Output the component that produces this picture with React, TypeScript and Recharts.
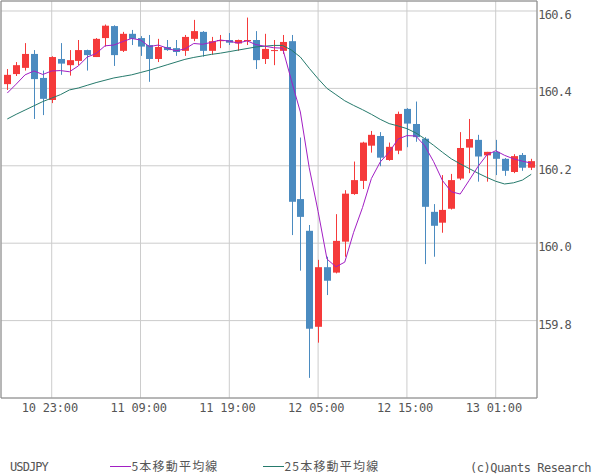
import React from "react";
import {
  ComposedChart,
  Bar,
  Line,
  XAxis,
  YAxis,
  CartesianGrid,
  ReferenceArea,
} from "recharts";

// ---- data (USDJPY hourly candles, 10 18:00 -> 13 05:00) ----
const opens = [160.411,160.437,160.453,160.489,160.427,160.370,160.476,160.460,160.471,160.499,160.481,160.530,160.561,160.497,160.541,160.530,160.512,160.476,160.507,160.504,160.497,160.528,160.546,160.497,160.522,160.525,160.516,160.522,160.525,160.476,160.497,160.497,160.522,160.114,160.032,159.784,159.938,159.924,160.004,160.127,160.161,160.252,160.277,160.215,160.239,160.347,160.308,160.270,160.081,160.053,160.089,160.167,160.247,160.267,160.227,160.236,160.218,160.184,160.228,160.195];
const highs = [160.450,160.468,160.517,160.499,160.446,160.483,160.517,160.499,160.525,160.500,160.530,160.565,160.563,160.546,160.551,160.535,160.538,160.528,160.525,160.525,160.538,160.577,160.548,160.533,160.538,160.543,160.526,160.583,160.548,160.541,160.525,160.538,160.538,160.273,160.047,159.957,159.965,160.075,160.137,160.211,160.262,160.290,160.287,160.260,160.340,160.349,160.366,160.274,160.101,160.176,160.179,160.287,160.321,160.280,160.236,160.267,160.220,160.230,160.233,160.218];
const lows = [160.396,160.432,160.446,160.321,160.331,160.362,160.435,160.433,160.460,160.446,160.481,160.508,160.458,160.494,160.512,160.484,160.417,160.468,160.497,160.484,160.484,160.522,160.482,160.487,160.504,160.512,160.497,160.512,160.450,160.463,160.460,160.489,160.021,159.929,159.652,159.743,159.866,159.922,159.965,160.125,160.140,160.234,160.199,160.213,160.230,160.248,160.262,159.946,159.965,160.027,160.087,160.163,160.181,160.159,160.159,160.176,160.174,160.181,160.187,160.189];
const closes = [160.435,160.460,160.489,160.424,160.373,160.481,160.464,160.473,160.499,160.486,160.528,160.562,160.486,160.541,160.528,160.508,160.476,160.507,160.499,160.494,160.533,160.548,160.497,160.522,160.525,160.518,160.525,160.525,160.473,160.502,160.499,160.520,160.107,160.068,159.779,159.938,159.903,160.006,160.128,160.163,160.260,160.280,160.221,160.249,160.334,160.309,160.274,160.094,160.045,160.086,160.163,160.246,160.269,160.224,160.236,160.218,160.187,160.225,160.195,160.212];
const ma5 = [160.388,160.411,160.435,160.445,160.436,160.445,160.446,160.443,160.458,160.481,160.490,160.510,160.512,160.521,160.529,160.525,160.508,160.512,160.504,160.497,160.502,160.516,160.514,160.519,160.525,160.522,160.517,160.523,160.513,160.509,160.505,160.504,160.420,160.339,160.195,160.082,159.959,159.939,159.951,160.028,160.092,160.167,160.210,160.235,160.269,160.278,160.277,160.252,160.211,160.162,160.133,160.127,160.162,160.198,160.228,160.239,160.227,160.218,160.212,160.207];
const ma25 = [160.321,160.333,160.344,160.355,160.366,160.375,160.384,160.396,160.401,160.408,160.415,160.421,160.427,160.431,160.435,160.441,160.447,160.454,160.461,160.468,160.475,160.480,160.484,160.488,160.491,160.495,160.499,160.503,160.507,160.509,160.511,160.511,160.499,160.481,160.452,160.425,160.400,160.384,160.368,160.356,160.345,160.333,160.320,160.309,160.303,160.296,160.285,160.270,160.253,160.235,160.218,160.205,160.193,160.181,160.170,160.160,160.153,160.156,160.163,160.178];

const xTickIndex = [5, 15, 25, 35, 45, 55];
const xTickLabels = ["10 23:00", "11 09:00", "11 19:00", "12 05:00", "12 15:00", "13 01:00"];
const yTicks = [159.8, 160.0, 160.2, 160.4, 160.6];

const rows = opens.map((o, i) => ({
  i,
  open: o,
  high: highs[i],
  low: lows[i],
  close: closes[i],
  range: [lows[i], highs[i]],
  ma5: ma5[i],
  ma25: ma25[i],
}));

const RED = "#f53a3a";
const BLUE = "#4b8bc0";
const PURPLE = "#a21fc4";
const TEAL = "#267a6c";
const TEXT = "#555555";
const MONO = "'DejaVu Sans Mono', monospace";

const X_DOMAIN: [number, number] = [-0.71, 59.65];
const Y_DOMAIN: [number, number] = [159.6, 160.6258];

const Candle = (props: any) => {
  const { x, y, width, height, payload } = props;
  if (payload == null || x == null) return null;
  const top = Math.min(y, y + height);
  const h = Math.abs(height);
  const hi = payload.high;
  const lo = payload.low;
  const span = hi - lo || 1;
  const py = (v: number) => top + ((hi - v) / span) * h;
  const up = payload.close >= payload.open;
  const color = up ? RED : BLUE;
  const cx = Math.round(x + width / 2) + 0.5;
  const bt = py(Math.max(payload.open, payload.close));
  const bb = py(Math.min(payload.open, payload.close));
  return (
    <g>
      <line x1={cx} x2={cx} y1={top} y2={top + h} stroke={color} strokeWidth={1} />
      <rect
        x={cx - 3.5}
        y={bt}
        width={7}
        height={Math.max(1, bb - bt)}
        fill={color}
      />
    </g>
  );
};

const XTick = (props: any) => {
  const { x, y, payload } = props;
  const k = xTickIndex.indexOf(payload.value);
  return (
    <text
      x={x - 30}
      y={y + 14}
      fill={TEXT}
      fontFamily={MONO}
      fontSize={12}
      letterSpacing={-0.2}
      textAnchor="start"
    >
      {k >= 0 ? xTickLabels[k] : ""}
    </text>
  );
};

const YTick = (props: any) => {
  const { x, y, payload } = props;
  return (
    <text
      x={x + 1.3}
      y={y + 8}
      fill={TEXT}
      fontFamily={MONO}
      fontSize={12}
      letterSpacing={-0.7}
      textAnchor="start"
    >
      {Number(payload.value).toFixed(1)}
    </text>
  );
};

export default function App() {
  return (
    <div
      style={{
        position: "absolute",
        left: 0,
        top: 0,
        width: 600,
        height: 475,
        background: "#ffffff",
      }}
    >
      <ComposedChart
        width={600}
        height={475}
        data={rows}
        margin={{ top: 1, right: 0, bottom: 0, left: 1 }}
      >
        <CartesianGrid stroke="#cccccc" strokeWidth={1} />
        <XAxis
          dataKey="i"
          type="number"
          domain={X_DOMAIN}
          allowDataOverflow
          ticks={xTickIndex}
          interval={0}
          axisLine={false}
          tickLine={false}
          tickSize={0}
          tickMargin={0}
          height={77}
          tick={<XTick />}
        />
        <YAxis
          orientation="right"
          type="number"
          domain={Y_DOMAIN}
          allowDataOverflow
          ticks={yTicks}
          interval={0}
          axisLine={false}
          tickLine={false}
          tickSize={0}
          tickMargin={0}
          width={63}
          tick={<YTick />}
        />
        <Bar
          dataKey="range"
          barSize={7}
          shape={<Candle />}
          isAnimationActive={false}
        />
        <Line
          dataKey="ma25"
          type="linear"
          stroke={TEAL}
          strokeWidth={1}
          dot={false}
          activeDot={false}
          isAnimationActive={false}
        />
        <Line
          dataKey="ma5"
          type="linear"
          stroke={PURPLE}
          strokeWidth={1}
          dot={false}
          activeDot={false}
          isAnimationActive={false}
        />
        <ReferenceArea
          x1={X_DOMAIN[0]}
          x2={X_DOMAIN[1]}
          y1={Y_DOMAIN[0]}
          y2={Y_DOMAIN[1]}
          fill="none"
          fillOpacity={0}
          stroke="#888888"
          strokeWidth={1}
          ifOverflow="visible"
        />
      </ComposedChart>
      <svg
        width={600}
        height={30}
        style={{ position: "absolute", left: 0, top: 450 }}
      >
        <text x={10} y={20.7} fill={TEXT} fontFamily={MONO} fontSize={12} letterSpacing={-0.9}>
          USDJPY
        </text>
        <line x1={110} x2={131} y1={16.5} y2={16.5} stroke={PURPLE} strokeWidth={1} />
        <text
          x={131.5}
          y={21}
          fill={TEXT}
          fontFamily="'Noto Sans CJK JP', sans-serif"
          fontSize={12}
          letterSpacing={1.2}
        >
          5本移動平均線
        </text>
        <line x1={263} x2={284} y1={16.5} y2={16.5} stroke={TEAL} strokeWidth={1} />
        <text
          x={284.5}
          y={21}
          fill={TEXT}
          fontFamily="'Noto Sans CJK JP', sans-serif"
          fontSize={12}
          letterSpacing={1.2}
        >
          25本移動平均線
        </text>
        <text x={470} y={22} fill={TEXT} fontFamily={MONO} fontSize={12} letterSpacing={-0.5}>
          (c)Quants Research
        </text>
      </svg>
    </div>
  );
}
